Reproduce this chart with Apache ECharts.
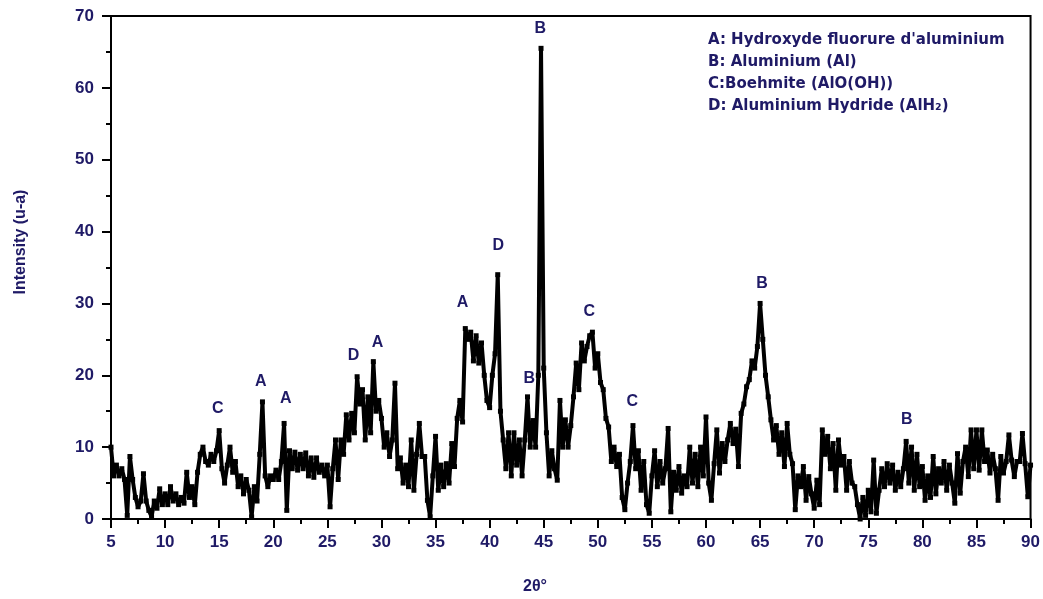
<!DOCTYPE html>
<html>
<head>
<meta charset="utf-8">
<style>
  html, body { margin: 0; padding: 0; background: #fff; }
  #chart { width: 1043px; height: 599px; }
</style>
<script src="https://cdn.jsdelivr.net/npm/echarts@6/dist/echarts.min.js"></script>
</head>
<body>
<div id="chart"></div>
<script>
// XRD pattern, sampled every 0.25 deg from 5 to 90 (one row = one degree)
const startAngle = 5
const step = 0.25
const intensity = [
  10, 6, 7.5, 6,
  7, 5.5, 0.5, 8.7,
  5.5, 3, 1.7, 2.5,
  6.3, 2.5, 1.2, 0.3,
  2.5, 1.5, 4.2, 2,
  3.5, 2, 4.5, 2.5,
  3.5, 2, 3, 2.2,
  6.5, 3, 4.5, 2,
  6.5, 9, 10, 8,
  7.5, 9, 8, 9.5,
  12.3, 7, 5, 7.5,
  10, 6.5, 8, 4.5,
  6, 3.5, 5.5, 4,
  0.3, 4.5, 2.5, 9,
  16.3, 6, 4.5, 6,
  5.5, 6.8, 5.5, 8,
  13.3, 1.2, 9.5, 7,
  9.3, 6.8, 9, 7,
  9.2, 6, 8.5, 5.8,
  8.5, 6.5, 7.5, 6,
  7.5, 1.7, 7, 11,
  5.5, 11, 9, 14.5,
  11, 14.7, 12, 19.8,
  16, 18, 11, 17,
  12, 21.9, 15, 16.5,
  14, 10, 12, 8.7,
  11, 18.9, 7, 8.5,
  5, 7.5, 4.5, 11,
  4, 9, 13.3, 8.7,
  8.7, 2.6, 0.3, 6,
  11.5, 4, 7.5, 4.5,
  7.7, 5, 10.5, 7.3,
  14, 16.5, 13.5, 26.5,
  25, 26, 22, 25.5,
  21.7, 24.5, 20, 16.5,
  15.5, 20, 23, 34,
  15, 11, 7, 12,
  6, 12, 7.5, 11,
  6, 11, 17, 10,
  13.7, 10, 20, 65.5,
  21, 12, 6, 9.5,
  7, 5.4, 16.5, 10,
  13.8, 10, 13, 17,
  21.7, 18, 24.5, 22,
  24, 25.5, 26, 21,
  23, 19, 18, 14,
  12.8, 8, 10, 7.3,
  9, 3, 1.3, 5,
  8, 13, 7, 9.5,
  4, 8, 2, 0.8,
  6, 9.5, 4.5, 8,
  5, 7, 12.6, 1,
  6.5, 4, 7.3, 3.6,
  6, 4.5, 10, 5,
  9, 4.5, 10, 6,
  14.2, 5, 2.6, 7.7,
  12.4, 6.4, 10.5, 8,
  11, 13.3, 10.5, 12.5,
  7.3, 14.7, 16, 18.4,
  19.4, 22, 21, 24,
  30, 25, 20, 17,
  13.8, 11, 13, 9,
  12, 7.3, 13.3, 9,
  7.7, 1.3, 6, 4.5,
  7.3, 2.6, 5.9, 3.5,
  1.5, 5.4, 2, 12.4,
  9, 11.5, 7, 10.5,
  4, 11, 7.5, 8.7,
  4, 8, 5, 4.5,
  2, 0, 3, 0.5,
  4, 1, 8.2, 0.8,
  4, 7, 4.5, 7.7,
  5, 7.5, 4, 6.5,
  4.5, 7, 10.8, 5,
  10, 4, 9, 4.5,
  7.3, 2.6, 6, 3,
  8.7, 3.5, 7, 5,
  8, 4, 7.5, 5,
  2.2, 9.1, 3.6, 8,
  10, 5.9, 12.4, 7,
  12.4, 6.8, 12.4, 8,
  9.6, 6.4, 9, 7,
  2.6, 8.7, 6.4, 8,
  11.7, 8.2, 5.9, 8,
  8, 11.9, 7.7, 3.1,
  7.5
]

// phase labels placed over the peaks
const peakLetters = ['C', 'A', 'A', 'D', 'A', 'A', 'D', 'B', 'B', 'C', 'C', 'B', 'B']
const peakX = [14.88, 18.84, 21.15, 27.43, 29.64, 37.49, 40.81, 43.67, 44.69, 49.21, 53.18, 65.17, 78.56]
const peakY = [15.4, 19.1, 16.8, 22.8, 24.5, 30.1, 38.1, 19.6, 68.2, 28.9, 16.3, 32.8, 13.8]

const legendLines = [
  "A: Hydroxyde fluorure d'aluminium",
  'B: Aluminium (Al)',
  'C:Boehmite (AlO(OH))',
  'D: Aluminium Hydride (AlH₂)',
]

const navy = '#1f1a66'

const pattern = intensity.map((v, i) => [startAngle + i * step, v])
const peaks = peakX.map((x, i) => [x, peakY[i], peakLetters[i]])

const chart = echarts.init(document.getElementById('chart'))

chart.setOption({
  animation: false,
  grid: {
    left: 111,
    right: 11,
    top: 16,
    bottom: 80,
    show: true,
    borderColor: '#000',
    borderWidth: 2,
  },
  xAxis: {
    type: 'value',
    min: 5,
    max: 90,
    interval: 5,
    axisLine: { lineStyle: { color: '#000', width: 2 } },
    axisTick: { length: 9, lineStyle: { color: '#000', width: 2 } },
    minorTick: { show: true, splitNumber: 2, length: 5, lineStyle: { color: '#000', width: 2 } },
    splitLine: { show: false },
    axisLabel: {
      color: navy,
      fontFamily: 'Liberation Sans',
      fontWeight: 'bold',
      fontSize: 17,
      margin: 15,
    },
  },
  yAxis: {
    type: 'value',
    min: 0,
    max: 70,
    interval: 10,
    axisLine: { show: true, lineStyle: { color: '#000', width: 2 } },
    axisTick: { show: true, length: 9, lineStyle: { color: '#000', width: 2 } },
    minorTick: { show: true, splitNumber: 2, length: 5, lineStyle: { color: '#000', width: 2 } },
    splitLine: { show: false },
    axisLabel: {
      color: navy,
      fontFamily: 'Liberation Sans',
      fontWeight: 'bold',
      fontSize: 17,
      margin: 17,
    },
  },
  series: [
    {
      type: 'line',
      data: pattern,
      symbol: 'rect',
      symbolSize: 5,
      showAllSymbol: true,
      itemStyle: { color: '#000' },
      lineStyle: { color: '#000', width: 4 },
      z: 2,
    },
    {
      type: 'scatter',
      data: peaks,
      symbolSize: 0,
      itemStyle: { opacity: 1 },
      label: {
        show: true,
        position: 'inside',
        formatter: (p) => p.value[2],
        color: navy,
        opacity: 1,
        fontFamily: 'Liberation Sans',
        fontWeight: 'bold',
        fontSize: 16,
      },
      z: 3,
    },
  ],
  graphic: [
    {
      type: 'text',
      x: 21,
      y: 242,
      rotation: Math.PI / 2,
      style: {
        text: 'Intensity (u-a)',
        fill: navy,
        font: 'bold 16px "Liberation Sans"',
        align: 'center',
        verticalAlign: 'middle',
      },
    },
    {
      type: 'text',
      x: 535,
      y: 587,
      style: {
        text: '2θ°',
        fill: navy,
        font: 'bold 16px "Liberation Sans"',
        align: 'center',
        verticalAlign: 'middle',
      },
    },
    ...legendLines.map((t, i) => ({
      type: 'text',
      x: 708,
      y: 40 + i * 22,
      style: {
        text: t,
        fill: navy,
        font: 'bold 15px "DejaVu Sans"',
        align: 'left',
        verticalAlign: 'middle',
      },
    })),
  ],
})

window.addEventListener('resize', () => {
  chart.resize()
})
</script>
</body>
</html>
